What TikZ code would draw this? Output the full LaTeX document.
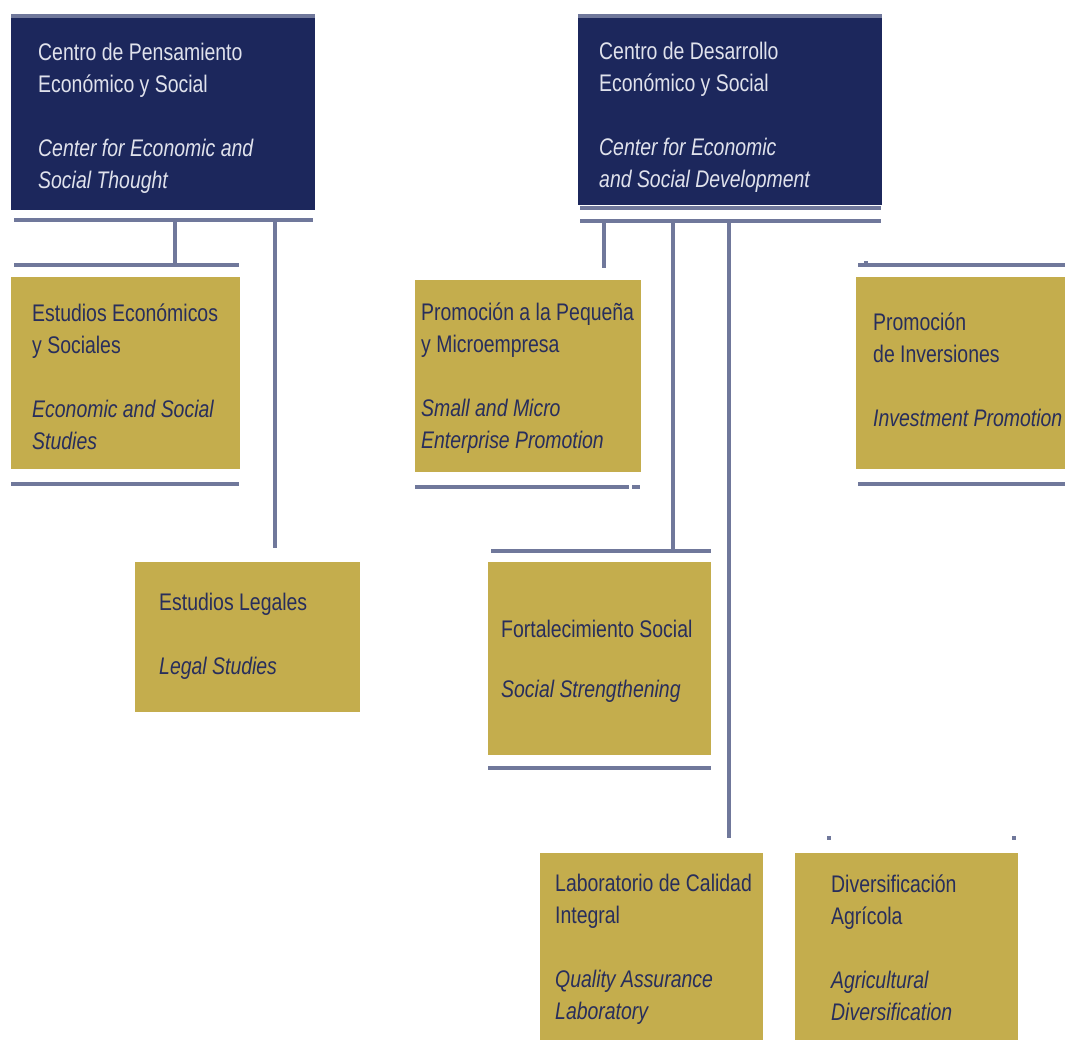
\documentclass[tikz,border=0pt]{standalone}
\usepackage{fontspec}
\setmainfont{Liberation Sans}[FakeStretch=0.81]
\usepackage{tikz}
\usetikzlibrary{positioning}
\definecolor{deepnavy}{RGB}{28,39,92}
\definecolor{mustard}{RGB}{196,173,77}
\definecolor{linkgray}{RGB}{112,120,155}
\definecolor{inknavy}{RGB}{40,46,92}
\definecolor{paletext}{RGB}{224,226,236}
\begin{document}
\begin{tikzpicture}[x=1pt,y=-1pt,
  navybox/.style={fill=deepnavy,inner sep=0pt,anchor=north west},
  goldbox/.style={fill=mustard,inner sep=0pt,anchor=north west},
  boxtext/.style={anchor=west,align=left,inner sep=0pt,font=\fontsize{24}{32}\selectfont},
  navytext/.style={boxtext,text=paletext},
  goldtext/.style={boxtext,text=inknavy},
  rule/.style={draw=linkgray,line width=3.8pt},
  link/.style={draw=linkgray,line width=3.2pt}]
\useasboundingbox (0,0) rectangle (1065,1040);

\node[navybox,minimum width=304pt,minimum height=192pt] (cpsBox) at (11,18) {};
\node[navytext] (cpsText) at ([xshift=27pt,yshift=-4pt]cpsBox.west)
  {Centro de Pensamiento\\Económico y Social\\[32pt]\textit{Center for Economic and}\\\textit{Social Thought}};
\node[navybox,minimum width=304pt,minimum height=187pt] (cdsBox) at (578,18) {};
\node[navytext] (cdsText) at ([xshift=21pt,yshift=-6pt]cdsBox.west)
  {Centro de Desarrollo\\Económico y Social\\[32pt]\textit{Center for Economic}\\\textit{and Social Development}};

\node[goldbox,minimum width=229pt,minimum height=192pt] (eesBox) at (11,277) {};
\node[goldtext] (eesText) at ([xshift=21pt,yshift=-4pt]eesBox.west)
  {Estudios Económicos\\y Sociales\\[32pt]\textit{Economic and Social}\\\textit{Studies}};
\node[goldbox,minimum width=225pt,minimum height=150pt] (legBox) at (135,562) {};
\node[goldtext] (legText) at ([xshift=24pt,yshift=1pt]legBox.west)
  {Estudios Legales\\[32pt]\textit{Legal Studies}};
\node[goldbox,minimum width=226pt,minimum height=192pt] (pymeBox) at (415,280) {};
\node[goldtext] (pymeText) at ([xshift=6pt,yshift=-2pt]pymeBox.west)
  {Promoción a la Pequeña\\y Microempresa\\[32pt]\textit{Small and Micro}\\\textit{Enterprise Promotion}};
\node[goldbox,minimum width=209pt,minimum height=192pt] (invBox) at (856,277) {};
\node[goldtext] (invText) at ([xshift=17pt,yshift=3pt]invBox.west)
  {Promoción\\de Inversiones\\[32pt]\textit{Investment Promotion}};
\node[goldbox,minimum width=223pt,minimum height=193pt] (socBox) at (488,562) {};
\node[goldtext] (socText) at ([xshift=13pt,yshift=-3pt]socBox.west)
  {Fortalecimiento Social\\[28pt]\textit{Social Strengthening}};
\node[goldbox,minimum width=223pt,minimum height=187pt] (labBox) at (540,853) {};
\node[goldtext] (labText) at ([xshift=15pt,yshift=-3pt]labBox.west)
  {Laboratorio de Calidad\\Integral\\[32pt]\textit{Quality Assurance}\\\textit{Laboratory}};
\node[goldbox,minimum width=223pt,minimum height=187pt] (agrBox) at (795,853) {};
\node[goldtext] (agrText) at ([xshift=36pt,yshift=-1pt]agrBox.west)
  {Diversificación\\Agrícola\\[32pt]\textit{Agricultural}\\\textit{Diversification}};

\draw[rule] ([yshift=2pt]cpsBox.north west) -- ([yshift=2pt]cpsBox.north east);
\draw[rule] ([yshift=2pt]cdsBox.north west) -- ([yshift=2pt]cdsBox.north east);
\draw[rule] ([xshift=2pt,yshift=-2.5pt]cdsBox.south west) -- ([xshift=-1pt,yshift=-2.5pt]cdsBox.south east);

\coordinate (cpsBarL) at (14,220);
\coordinate (cpsBarR) at (313,220);
\coordinate (cpsJa) at (175,220);
\coordinate (cpsJb) at (275,220);
\coordinate (eesIn) at (175,265);
\coordinate (legIn) at (275,548);
\draw[rule] (cpsBarL) -- (cpsBarR);
\draw[link] (cpsJa) -- (eesIn);
\draw[link] (cpsJb) -- (legIn);

\coordinate (cdsBarL) at (580,221);
\coordinate (cdsBarR) at (881,221);
\coordinate (cdsJa) at (604,221);
\coordinate (cdsJb) at (673,221);
\coordinate (cdsJc) at (729,221);
\coordinate (pymeIn) at (604,268);
\coordinate (socIn) at (673,551);
\coordinate (labIn) at (729,838);
\draw[rule] (cdsBarL) -- (cdsBarR);
\draw[link] (cdsJa) -- (pymeIn);
\draw[link] (cdsJb) -- (socIn);
\draw[link] (cdsJc) -- (labIn);

\draw[rule] (14,265) -- (239,265);
\draw[rule] (11,484) -- (239,484);
\draw[rule] (415,487) -- (629,487);
\draw[rule] (632,487) -- (640,487);
\draw[rule] (858,265) -- (1065,265);
\draw[rule] (858,484) -- (1065,484);
\draw[rule] (491,551) -- (711,551);
\draw[rule] (488,768) -- (711,768);

\coordinate (invTick) at (866,261);
\coordinate (agrTickL) at (829,836);
\coordinate (agrTickR) at (1014,836);
\draw[link] (invTick) -- ++(0,4);
\draw[link] (agrTickL) -- ++(0,4);
\draw[link] (agrTickR) -- ++(0,4);
\end{tikzpicture}
\end{document}
